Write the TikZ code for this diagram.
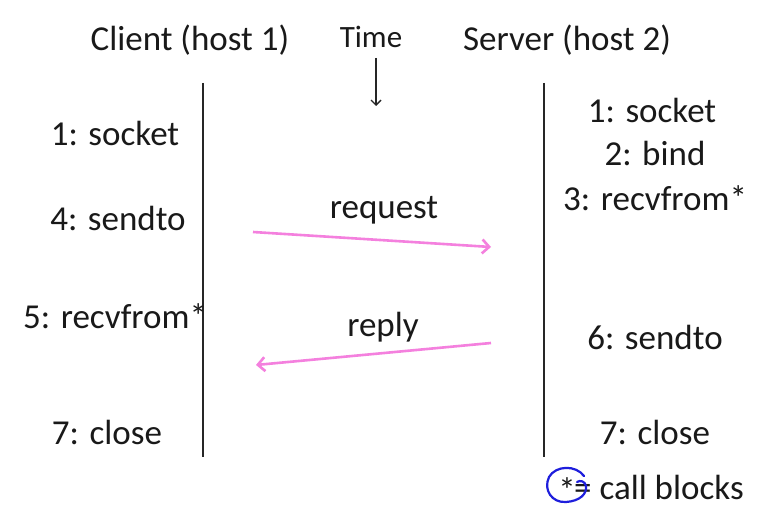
\documentclass[tikz,border=0pt]{standalone}
\usepackage{fontspec}
\setmainfont{Carlito}
\usetikzlibrary{arrows.meta}
\definecolor{msgpink}{RGB}{244,128,222}
\definecolor{penblue}{RGB}{30,30,220}
\begin{document}
\begin{tikzpicture}[x=1pt,y=-1pt,
  lbl/.style={inner sep=0pt,font=\fontsize{35}{40}\selectfont,text=black!90},
  smalllbl/.style={inner sep=0pt,font=\fontsize{31}{36}\selectfont,text=black!90},
  life/.style={line width=1.6pt,black!85},
  msg/.style={line width=2.6pt,msgpink,-{Straight Barb[length=7pt,width=14pt,line width=2.6pt]}},
  timearrow/.style={line width=1.4pt,black!85,-{Straight Barb[length=5pt,width=10pt,line width=1.4pt]}}]
\useasboundingbox[fill=white] (0,0) rectangle (770,518);
% headers
\node[lbl] (client) at (190,40) {Client (host 1)};
\node[smalllbl] (time) at (371,37) {Time};
\node[lbl] (server) at (567,40) {Server (host 2)};
\coordinate (t1) at (376,58);
\coordinate (t2) at (376,106);
\draw[timearrow] (t1) -- (t2);
% lifelines
\coordinate (ctop) at (203,83);
\coordinate (cbot) at (203,457);
\coordinate (stop) at (544,83);
\coordinate (sbot) at (544,457);
\draw[life] (ctop) -- (cbot);
\draw[life] (stop) -- (sbot);
% client steps
\node[lbl] (c1) at (115,133) {1: socket};
\node[lbl] (c4) at (118,218) {4: sendto};
\node[lbl] (c5) at (115,316) {5: recvfrom*};
\node[lbl] (c7) at (107,432) {7: close};
% server steps
\node[lbl] (s1) at (652,110) {1: socket};
\node[lbl] (s2) at (655,153) {2: bind};
\node[lbl] (s3) at (655,198) {3: recvfrom*};
\node[lbl] (s6) at (655,337) {6: sendto};
\node[lbl] (s7) at (655,432) {7: close};
% messages
\node[lbl] (req) at (384,210) {request};
\node[lbl] (rep) at (383,327) {reply};
\coordinate (rqa) at (253,232);
\coordinate (rqb) at (491,247);
\coordinate (rpa) at (491,343);
\coordinate (rpb) at (256,365);
\draw[msg] (rqa) -- (rqb);
\draw[msg] (rpa) -- (rpb);
% legend
\node[lbl] (star) at (567,490) {*};
\node[lbl,anchor=west] (legend) at (574,487) {= call blocks};
\draw[penblue,line width=2.2pt,line cap=round]
  (584,476) .. controls (576,465) and (556,465) .. (549,477)
  .. controls (543,490) and (552,503) .. (566,502)
  .. controls (580,501) and (587,494) .. (586,486)
  .. controls (585,481) and (580,480) .. (577,482);
\end{tikzpicture}
\end{document}
